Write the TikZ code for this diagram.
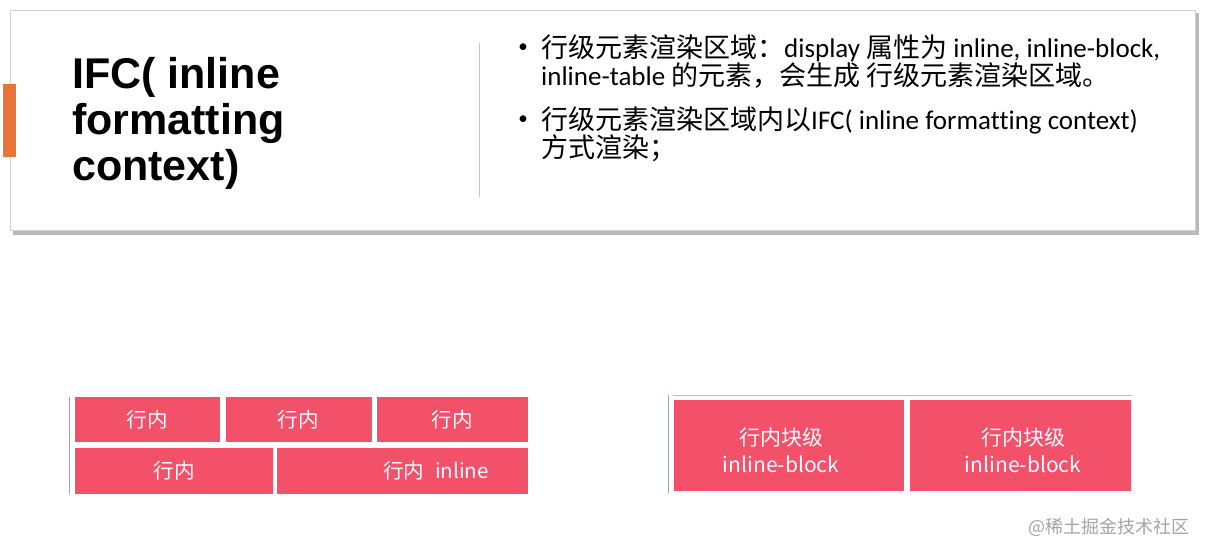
\documentclass[tikz,border=0pt]{standalone}
\usepackage{fontspec}
\setmainfont{Liberation Sans}
\newfontfamily\cjk{Noto Sans CJK SC}
\newfontfamily\carlitofont[Ligatures=NoCommon]{Carlito}
\definecolor{pinkred}{RGB}{243,81,106}
\definecolor{barorange}{RGB}{232,117,56}
\definecolor{cardline}{RGB}{210,210,210}
\definecolor{shadowgray}{RGB}{185,185,185}
\definecolor{sepgray}{RGB}{200,200,200}
\definecolor{leftline}{RGB}{150,175,165}
\definecolor{topline}{RGB}{170,195,215}
\definecolor{wmgray}{RGB}{165,165,165}
\tikzset{
  card/.style={draw=cardline, fill=white, line width=0.8pt, inner sep=0, anchor=north west},
  pinkbox/.style={fill=pinkred, draw=none, inner sep=0, anchor=north west},
  boxtext/.style={text=white, inner sep=0, font=\cjk\fontsize{20.5}{24}\selectfont},
  titleline/.style={anchor=base west, inner sep=0, font=\fontsize{43}{46}\bfseries\selectfont},
  bulletline/.style={anchor=base west, inner sep=0, font=\fontsize{27}{29}\selectfont},
  bulletdot/.style={anchor=center, inner sep=0, font=\fontsize{19}{19}\selectfont},
}
\newcommand{\cj}[1]{{\cjk #1}}
\newcommand{\la}[1]{{\carlitofont #1}}
\begin{document}
\begin{tikzpicture}[x=1pt,y=-1pt]
\useasboundingbox[fill=white] (0,0) rectangle (1207,554);
% card with shadow
\fill[shadowgray] (13,13) rectangle (1199,235);
\node[card, minimum width=1185pt, minimum height=220pt] (card) at (10,10) {};
\node[fill=barorange, inner sep=0, anchor=north west, minimum width=13pt, minimum height=73pt] (bar) at (3,84) {};
% title
\node[titleline] (t1) at (72,88) {IFC( inline};
\node[titleline] (t2) at (72,134) {formatting};
\node[titleline] (t3) at (72,180) {context)};
% separator
\coordinate (s1) at (479,43);
\coordinate (s2) at (479,197);
\draw[sepgray, line width=1pt] (s1) -- (s2);
% bullets
\node[bulletdot] (b1) at (523,48) {\la{•}};
\node[bulletline] (l1) at (541,57) {\cj{行级元素渲染区域：}\la{display }\cj{属性为}\la{ inline, inline-block,}};
\node[bulletline] (l2) at (541,85) {\la{inline-table }\cj{的元素，会生成 行级元素渲染区域。}};
\node[bulletdot] (b2) at (523,120) {\la{•}};
\node[bulletline] (l3) at (541,129) {\cj{行级元素渲染区域内以}\la{IFC( inline formatting context)}};
\node[bulletline] (l4) at (541,157) {\cj{方式渲染；}};
% inline demo
\coordinate (la) at (69.5,397);
\coordinate (lb) at (69.5,494);
\draw[leftline, line width=1pt] (la) -- (lb);
\node[pinkbox, minimum width=145pt, minimum height=45pt] (r1) at (75,397) {};
\node[pinkbox, minimum width=146pt, minimum height=45pt] (r2) at (226,397) {};
\node[pinkbox, minimum width=151pt, minimum height=45pt] (r3) at (377,397) {};
\node[pinkbox, minimum width=198pt, minimum height=46pt] (r4) at (75,448) {};
\node[pinkbox, minimum width=251pt, minimum height=46pt] (r5) at (277,448) {};
\node[boxtext] (x1) at (147,420) {行内};
\node[boxtext] (x2) at (298,420) {行内};
\node[boxtext] (x3) at (452,420) {行内};
\node[boxtext] (x4) at (174,471) {行内};
\node[boxtext] (x5) at (436,471) {行内\hspace{11pt}inline};
% inline-block demo
\coordinate (ta) at (673,395);
\coordinate (tb) at (1132,395);
\coordinate (tc) at (668,395);
\coordinate (td) at (668,493);
\draw[topline, line width=1pt] (ta) -- (tb);
\draw[leftline, line width=1pt] (tc) -- (td);
\node[pinkbox, minimum width=230pt, minimum height=91pt] (k1) at (674,400) {};
\node[pinkbox, minimum width=221pt, minimum height=91pt] (k2) at (910,400) {};
\node[boxtext, align=center, font=\cjk\fontsize{21}{27}\selectfont] (y1) at (781,450) {行内块级\\inline-block};
\node[boxtext, align=center, font=\cjk\fontsize{21}{27}\selectfont] (y2) at (1023,450) {行内块级\\inline-block};
% watermark
\node[anchor=west, inner sep=0, text=wmgray, font=\cjk\fontsize{18}{18}\selectfont] (wm) at (1028,527) {@稀土掘金技术社区};
\end{tikzpicture}
\end{document}
